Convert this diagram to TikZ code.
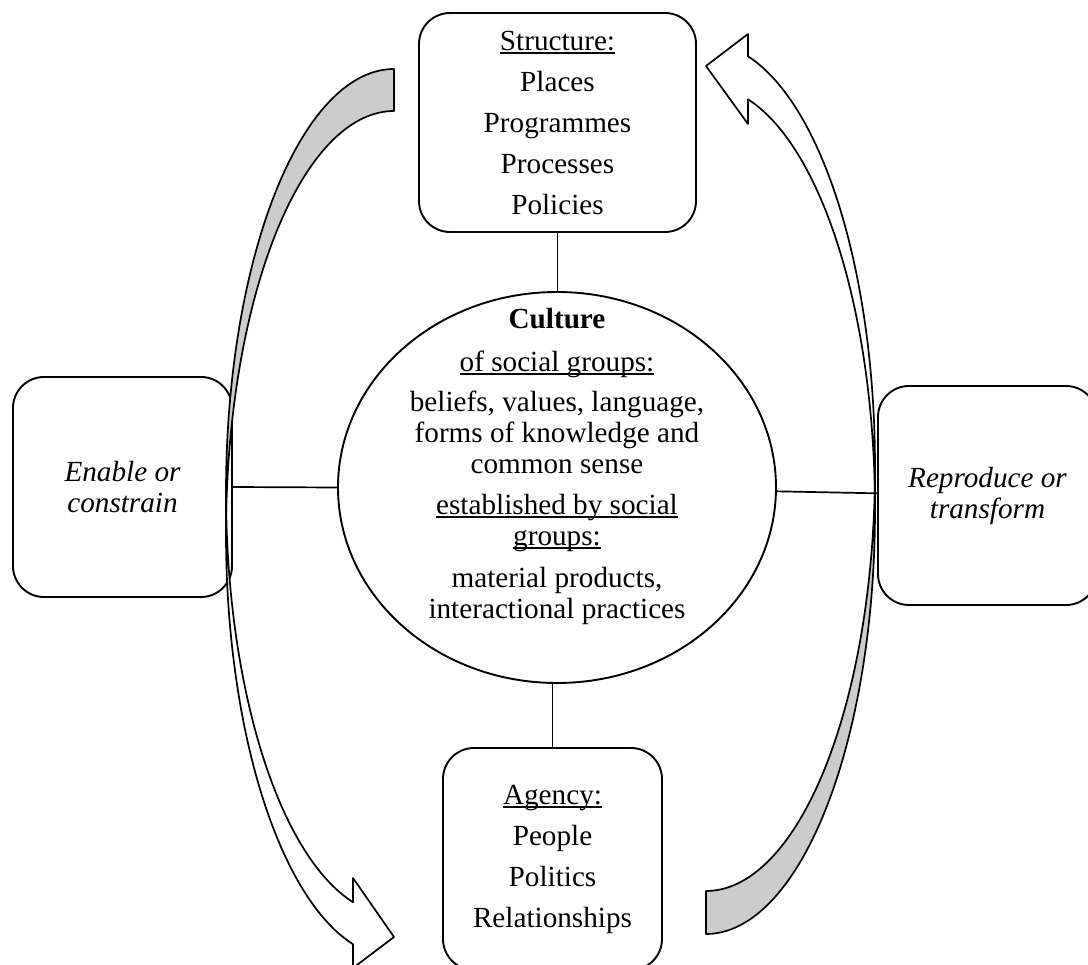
\documentclass[tikz,border=0pt]{standalone}
\usepackage{fontspec}
\setmainfont{Liberation Serif}
\usetikzlibrary{shapes.geometric}
\newsavebox\ulbox
\newcommand\uln[1]{\sbox\ulbox{#1}\rlap{\rule[-3.6pt]{\wd\ulbox}{1.5pt}}\usebox\ulbox}
\begin{document}
\begin{tikzpicture}[x=1pt,y=-1pt,line join=round,
  box/.style={draw, line width=1.9pt, rounded corners=31pt, fill=white, inner sep=0pt,
    align=center, font=\fontsize{29.2}{41}\selectfont},
  sidebox/.style={box, font=\fontsize{29.2}{31}\selectfont\itshape},
  hub/.style={draw, line width=1.9pt, ellipse, inner sep=0pt},
  hubtext/.style={align=center, inner sep=0pt, font=\fontsize{29.2}{31}\selectfont},
  link/.style={line width=1.7pt},
  back/.style={fill=black!20, draw, line width=1.7pt},
  front/.style={fill=white, draw, line width=1.7pt}]
\useasboundingbox (0,0) rectangle (1088,965);
\clip (0,0) rectangle (1088,965);

% boxes around the central ellipse
\node[box, minimum width=277pt, minimum height=219pt] (structure) at (557.5,122.5)
  {\uln{Structure:}\\ Places\\ Programmes\\ Processes\\ Policies};
\node[box, minimum width=219pt, minimum height=222pt] (agency) at (552.5,859)
  {\uln{Agency:}\\ People\\ Politics\\ Relationships};
\node[sidebox, minimum width=219pt, minimum height=220pt] (enable) at (122.5,487)
  {Enable or\\ constrain};
\node[sidebox, minimum width=219pt, minimum height=219pt] (reproduce) at (987.5,495.5)
  {Reproduce or\\ transform};

% central ellipse
\node[hub, minimum width=438pt, minimum height=391pt] (culture) at (557,487.5) {};
\node[hubtext] (culturetext) at ([yshift=21.5pt]culture.center)
  {{\bfseries Culture}\\[12pt]
   \uln{of social groups:}\\[9pt]
   beliefs, values, language,\\
   forms of knowledge and\\
   common sense\\[10pt]
   \uln{established by social}\\
   \uln{groups:}\\[11pt]
   material products,\\
   interactional practices};

% connecting lines
\draw[link] (structure.south) -- (structure.south |- culture.north);
\draw[link] (agency.north) -- (agency.north |- culture.south);
\draw[link] (enable.east) -- (culture.west);
\draw[link] (culture.-1) -- ([yshift=-2pt]reproduce.west |- culture.-1);

% left curved arrow: shaded back, then the front with its head
\filldraw[back]
  plot[domain=270:177.154, samples=90, variable=\t] ({394+168*cos(\t)},{492+423*sin(\t)})
  -- plot[domain=182.846:270, samples=90, variable=\t] ({394+168*cos(\t)},{534+423*sin(\t)})
  -- cycle;
\filldraw[front]
  plot[domain=180:104.126, samples=90, variable=\t] ({394+168*cos(\t)},{492+423*sin(\t)})
  -- (353,878) -- (394,937) -- (353,968)
  -- plot[domain=104.126:180, samples=90, variable=\t] ({394+168*cos(\t)},{534+423*sin(\t)})
  -- cycle;

% right curved arrow
\filldraw[back]
  plot[domain=90:-2.906, samples=90, variable=\t] ({706+169*cos(\t)},{510+424*sin(\t)})
  -- plot[domain=2.906:90, samples=90, variable=\t] ({706+169*cos(\t)},{467+424*sin(\t)})
  -- cycle;
\filldraw[front]
  plot[domain=0:-75.61, samples=90, variable=\t] ({706+169*cos(\t)},{510+424*sin(\t)})
  -- (748,124) -- (706,66) -- (748,34)
  -- plot[domain=-75.61:0, samples=90, variable=\t] ({706+169*cos(\t)},{467+424*sin(\t)})
  -- cycle;
\end{tikzpicture}
\end{document}
